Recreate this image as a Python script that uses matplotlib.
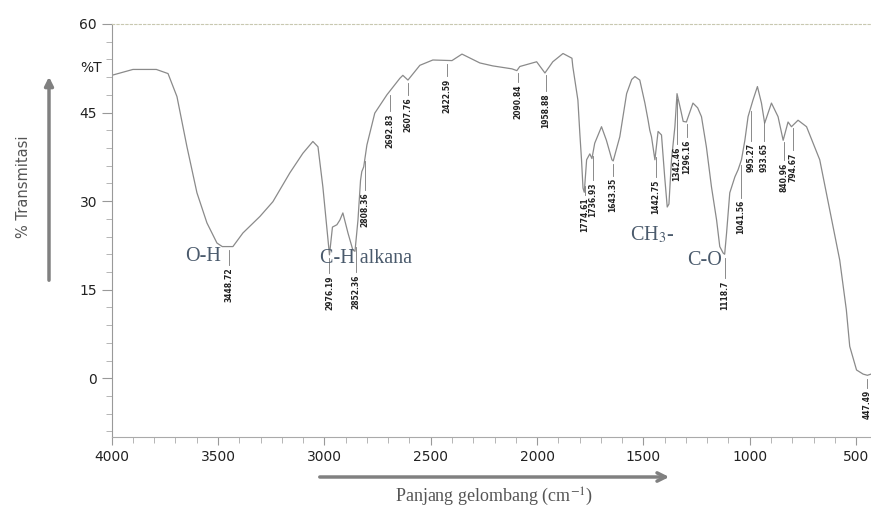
import numpy as np
import matplotlib.pyplot as plt
from matplotlib.ticker import MultipleLocator

# spektrum FTIR
wellenzahl = np.array([4000, 3900, 3790, 3735, 3693, 3646, 3599, 3552, 3505, 3480, 3430, 3383,
                       3303, 3242, 3162, 3101, 3054, 3030, 3007, 2986, 2976, 2962, 2941, 2927,
                       2913, 2889, 2866, 2856, 2842, 2830, 2824, 2815, 2800, 2763, 2706, 2645,
                       2631, 2607, 2551, 2490, 2400, 2353, 2269, 2208, 2118, 2095, 2081, 2002,
                       1963, 1926, 1878, 1836, 1832, 1808, 1799, 1791, 1784, 1778, 1767, 1752,
                       1742, 1729, 1697, 1674, 1648, 1642, 1611, 1579, 1555, 1540, 1517, 1493,
                       1478, 1470, 1462, 1446, 1431, 1415, 1400, 1388, 1380, 1368, 1352, 1342,
                       1325, 1313, 1298, 1267, 1245, 1227, 1204, 1180, 1156, 1141, 1125, 1118,
                       1109, 1094, 1070, 1055, 1039, 1023, 1008, 985, 964, 945, 930, 898, 867,
                       843, 820, 804, 773, 733, 671, 624, 577, 546, 530, 498, 467, 447, 430])
transmisi = np.array([51.3, 52.3, 52.3, 51.6, 47.7, 39.2, 31.4, 26.3, 22.9, 22.3, 22.3, 24.6,
                      27.4, 29.9, 34.8, 38.1, 40.1, 39.2, 32.4, 24.6, 20.9, 25.6, 26.0, 26.8,
                      28.0, 24.6, 21.7, 21.5, 26.8, 33.5, 35.0, 35.8, 39.5, 44.9, 48.0, 50.8,
                      51.3, 50.5, 53.0, 53.9, 53.8, 54.9, 53.4, 52.9, 52.4, 52.1, 52.8, 53.6,
                      51.7, 53.6, 55.0, 54.2, 52.8, 47.1, 41.5, 37.0, 32.2, 31.5, 37.0, 38.0,
                      37.2, 39.8, 42.6, 40.3, 37.0, 36.8, 40.9, 48.2, 50.6, 51.1, 50.5, 46.6,
                      43.7, 42.0, 40.9, 37.0, 41.8, 41.2, 34.1, 29.0, 29.5, 37.0, 42.6, 48.2,
                      45.5, 43.5, 43.4, 46.6, 45.8, 44.3, 39.2, 32.4, 26.8, 22.3, 21.2, 21.0,
                      24.6, 31.4, 34.1, 35.3, 37.0, 40.3, 44.3, 47.1, 49.4, 46.6, 43.2, 46.6,
                      44.3, 40.3, 43.4, 42.6, 43.7, 42.6, 37.0, 28.5, 20.0, 11.6, 5.4, 1.4,
                      0.7, 0.5, 0.7])

# label puncak
puncak = np.array([3448.72, 2976.19, 2852.36, 2808.36, 2692.83, 2607.76, 2422.59, 2090.84,
                   1958.88, 1774.61, 1736.93, 1643.35, 1442.75, 1342.46, 1296.16, 1118.7,
                   1041.56, 995.27, 933.65, 840.96, 794.67, 447.49])
puncak_label = ["3448.72", "2976.19", "2852.36", "2808.36", "2692.83", "2607.76", "2422.59",
                "2090.84", "1958.88", "1774.61", "1736.93", "1643.35", "1442.75", "1342.46",
                "1296.16", "1118.7", "1041.56", "995.27", "933.65", "840.96", "794.67", "447.49"]
label_atas = np.array([18.8, 17.4, 17.6, 31.4, 44.9, 47.6, 50.8, 49.7, 48.3, 30.7, 33.2, 33.9,
                       33.6, 39.2, 40.4, 16.6, 30.2, 39.8, 39.8, 36.5, 38.2, -2.0])

# gugus fungsi
gugus = ["O-H", "C-H alkana", "CH$_3$-", "C-O"]
gugus_x = [3571, 3021, 1564, 1296]
gugus_y = [20.6, 20.3, 24.3, 20.0]
gugus_ha = ["center", "left", "left", "left"]

plt.rcParams['mathtext.fontset'] = 'stix'

fig = plt.figure(figsize=(8.71, 5.08), dpi=100)
ax = fig.add_axes([0.1282, 0.1392, 0.8718, 0.8136])

ax.plot(wellenzahl, transmisi, color="#8a8a8a", lw=0.9)

for x, lbl, atas in zip(puncak, puncak_label, label_atas):
    yk = np.interp(x, wellenzahl[::-1], transmisi[::-1])
    ax.plot([x, x], [yk - 0.6, atas + 0.4], color="#777777", lw=0.6)
    ax.text(x, atas, lbl, rotation=90, ha="center", va="top", fontsize=5.5,
            fontweight="bold", color="#222222")

for t, x, y, ha in zip(gugus, gugus_x, gugus_y, gugus_ha):
    ax.text(x, y, t, ha=ha, va="center", fontsize=14.5, family="Liberation Serif",
            color="#4a5a6c")

ax.set_xlim(4000, 430)
ax.set_ylim(-10, 60)
ax.set_xticks([4000, 3500, 3000, 2500, 2000, 1500, 1000, 500])
ax.set_yticks([0, 15, 30, 45, 60])
ax.xaxis.set_minor_locator(MultipleLocator(100))
ax.yaxis.set_minor_locator(MultipleLocator(3))
ax.tick_params(which="major", length=7, color="#999999", labelsize=10, labelcolor="#222222")
ax.tick_params(which="minor", length=4, color="#aaaaaa")
ax.tick_params(axis="x", which="major", length=6)

ax.spines["right"].set_visible(False)
ax.spines["left"].set_color("#999999")
ax.spines["bottom"].set_color("#aaaaaa")
ax.spines["top"].set_color("#c8c8b0")
ax.spines["top"].set_linestyle((0, (2, 2)))

fig.text(80 / 871, 1 - 68 / 508, "%T", fontsize=10, color="#222222", va="center")
fig.text(23 / 871, 1 - 187 / 508, "% Transmitasi", rotation=90, fontsize=10.5,
         color="#555555", ha="center", va="center")
fig.text(494 / 871, 1 - 497 / 508, "Panjang gelombang (cm$^{-1}$)", fontsize=13,
         family="Liberation Serif", color="#555555", ha="center", va="center")

ax.annotate("", xy=(49 / 871, 1 - 74 / 508), xytext=(49 / 871, 1 - 283 / 508),
            xycoords="figure fraction", textcoords="figure fraction",
            arrowprops=dict(arrowstyle="-|>,head_width=0.25,head_length=0.5",
                            color="#808080", lw=2.5))
ax.annotate("", xy=(672 / 871, 1 - 477 / 508), xytext=(317 / 871, 1 - 477 / 508),
            xycoords="figure fraction", textcoords="figure fraction",
            arrowprops=dict(arrowstyle="->,head_width=0.3,head_length=0.6",
                            color="#808080", lw=2.5))

plt.savefig("out.png", dpi=100)
